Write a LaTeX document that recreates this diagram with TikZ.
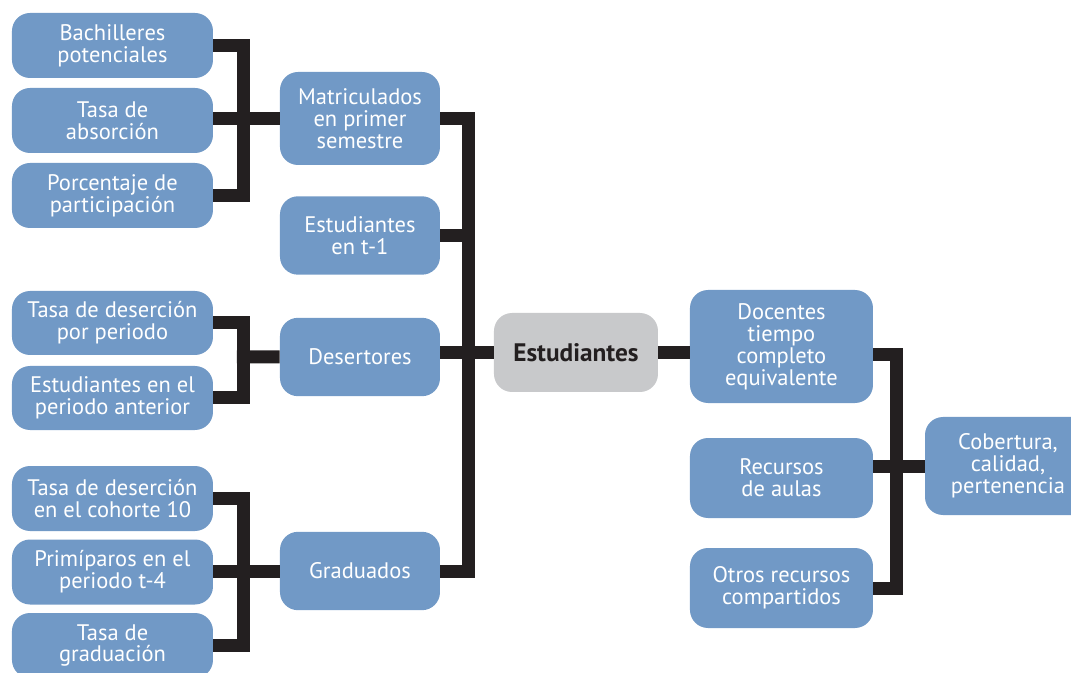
\documentclass[tikz,border=0pt]{standalone}
\usepackage{fontspec}
\setmainfont{PT Sans}
\usetikzlibrary{calc}

\definecolor{boxblue}{RGB}{113,153,198}
\definecolor{boxgray}{RGB}{200,201,203}
\definecolor{linkblack}{RGB}{35,31,32}

\tikzset{
    leafbox/.style={fill=boxblue, rounded corners=0.45cm, text=white, align=center, inner sep=0pt,
        minimum width=5.025cm, minimum height=1.625cm, font=\fontsize{16}{15.6}\selectfont},
    midbox/.style={leafbox, minimum width=4cm, minimum height=1.96cm},
    rightbox/.style={leafbox, minimum width=4.575cm, minimum height=2cm},
    link/.style={draw=linkblack, line width=0.325cm, line join=miter}
}

\begin{document}
\begin{tikzpicture}
        \useasboundingbox (-14.4,-8.0125) rectangle (12.375,8.8125);

        \node[fill=boxgray, rounded corners=0.45cm, text=linkblack, inner sep=0pt, minimum width=4.1cm, minimum height=1.975cm, font=\fontsize{18}{20}\selectfont\bfseries] (estud) at (0,0) {Estudiantes};

        \node[midbox, minimum height=2.325cm] (mat) at ([xshift=-5.4cm, yshift=5.85cm]estud.center) {Matriculados\\en primer\\semestre};
        \node[midbox] (est1) at ([xshift=-5.4cm, yshift=2.925cm]estud.center) {Estudiantes\\en t-1};
        \node[midbox] (des) at ([xshift=-5.4cm, yshift=-0.1125cm]estud.center) {Desertores};
        \node[midbox] (grad) at ([xshift=-5.4cm, yshift=-5.4625cm]estud.center) {Graduados};

        \node[leafbox] (bach) at ([xshift=-6.1875cm, yshift=1.825cm]mat.center) {Bachilleres\\potenciales};
        \node[leafbox] (absor) at ([xshift=-6.1875cm, yshift=-0.05cm]mat.center) {Tasa de\\absorción};
        \node[leafbox] (porc) at ([xshift=-6.1875cm, yshift=-1.925cm]mat.center) {Porcentaje de\\participación};

        \node[leafbox, minimum height=1.6cm] (tdp) at ([xshift=-6.1875cm, yshift=0.85cm]des.center) {Tasa de deserción\\por periodo};
        \node[leafbox, minimum height=1.6cm] (epa) at ([xshift=-6.1875cm, yshift=-1.025cm]des.center) {Estudiantes en el\\periodo anterior};

        \node[leafbox] (tdc) at ([xshift=-6.1875cm, yshift=1.8125cm]grad.center) {Tasa de deserción\\en el cohorte 10};
        \node[leafbox] (prim) at ([xshift=-6.1875cm, yshift=-0.025cm]grad.center) {Primíparos en el\\periodo t-4};
        \node[leafbox] (tgrad) at ([xshift=-6.1875cm, yshift=-1.8625cm]grad.center) {Tasa de\\graduación};

        \node[rightbox, minimum height=2.825cm] (doc) at ([xshift=5.1375cm, yshift=0.15cm]estud.center) {Docentes\\tiempo\\completo\\equivalente};
        \node[rightbox] (rec) at ([xshift=5.1375cm, yshift=-3.1375cm]estud.center) {Recursos\\de aulas};
        \node[rightbox] (otros) at ([xshift=5.1375cm, yshift=-5.8875cm]estud.center) {Otros recursos\\compartidos};

        \node[leafbox, minimum width=4.15cm, minimum height=2.45cm] (cob) at ([xshift=10.8cm, yshift=-2.8375cm]estud.center) {Cobertura,\\calidad,\\pertenencia};

        % brackets on the left
        \coordinate (jmat) at ($(absor.east)!.45!(mat.west)$);
        \draw [link] (bach.east) -| (jmat) |- (porc.east);
        \draw [link] (mat.west) -- (mat.west -| absor.east);

        \coordinate (jdes) at ($(des.west)!.55!(tdp.east |- des.west)$);
        \draw [link] (tdp.east) -| (jdes) |- (epa.east);
        \draw [link] (des.west) -- ([xshift=-0.16cm]jdes);

        \coordinate (jgrad) at ($(grad.west)!.55!(prim.east |- grad.west)$);
        \draw [link] (tdc.east) -| (jgrad) |- (tgrad.east);
        \draw [link] (grad.west) -- (grad.west -| prim.east);

        % main bracket
        \coordinate (jest) at ($(estud.west)!.48!(des.east |- estud.west)$);
        \draw [link] (mat.east) -| (jest) |- (grad.east);
        \draw [link] (est1.east) -- (est1.east -| jest);
        \draw [link] (estud.west) -- (estud.west -| des.east);

        % right side
        \draw [link] (estud.east) -- (estud.east -| doc.west);
        \coordinate (jcob) at ($(cob.west)!.54!(rec.east |- cob.west)$);
        \draw [link] ([yshift=-0.2cm]doc.east) -| (jcob) |- (otros.east);
        \draw [link] (cob.west) -- (cob.west -| rec.east);

    \end{tikzpicture}
\end{document}
